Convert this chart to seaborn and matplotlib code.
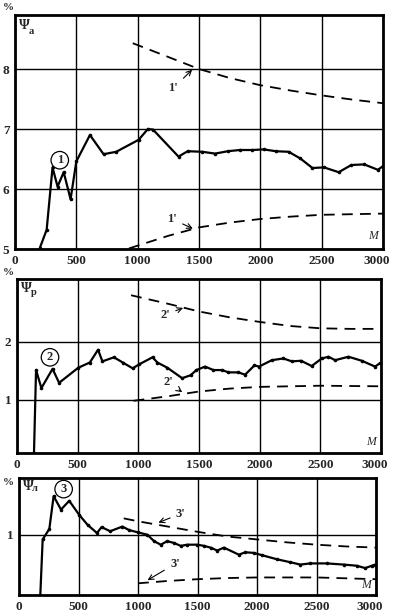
import numpy as np
import pandas as pd
import matplotlib
matplotlib.use("Agg")
import matplotlib.pyplot as plt
import matplotlib.transforms as mtransforms
import seaborn as sns

# ---- data ----
# panel 1 (Psi_a)
m1 = [203, 258, 306, 347, 397, 453, 500, 611, 722, 825, 1008, 1083, 1125, 1333, 1408,
      1528, 1631, 1736, 1833, 1936, 2028, 2125, 2231, 2325, 2425, 2519, 2639, 2742,
      2847, 2958, 3000]
psi1 = [5.02, 5.32, 6.36, 6.04, 6.28, 5.83, 6.46, 6.90, 6.58, 6.62, 6.82, 7.00, 6.99,
        6.54, 6.63, 6.62, 6.59, 6.63, 6.65, 6.65, 6.66, 6.63, 6.62, 6.51, 6.35, 6.36,
        6.28, 6.40, 6.41, 6.32, 6.38]
m1_up = [960, 1250, 1500, 1750, 2000, 2250, 2500, 2750, 3000]
psi1_up = [8.43, 8.20, 8.00, 7.85, 7.73, 7.64, 7.56, 7.49, 7.43]
m1_lo = [930, 1250, 1500, 1750, 2000, 2250, 2500, 2750, 3000]
psi1_lo = [5.01, 5.22, 5.36, 5.44, 5.50, 5.54, 5.57, 5.58, 5.59]

# panel 2 (Psi_p)
m2 = [140, 157, 201, 293, 347, 505, 600, 668, 704, 799, 872, 953, 1008, 1117, 1157,
      1239, 1361, 1430, 1479, 1550, 1619, 1692, 1742, 1825, 1880, 1957, 1995, 2100,
      2195, 2265, 2341, 2429, 2512, 2567, 2622, 2732, 2842, 2951, 2993]
psi2 = [0.08, 1.51, 1.20, 1.53, 1.29, 1.55, 1.64, 1.86, 1.66, 1.73, 1.64, 1.54, 1.61,
        1.73, 1.64, 1.55, 1.37, 1.42, 1.51, 1.57, 1.51, 1.51, 1.47, 1.47, 1.43, 1.59,
        1.57, 1.68, 1.71, 1.66, 1.67, 1.58, 1.71, 1.74, 1.68, 1.74, 1.67, 1.57, 1.63]
m2_up = [940, 1250, 1500, 1750, 2000, 2250, 2500, 2750, 3000]
psi2_up = [2.80, 2.65, 2.52, 2.42, 2.34, 2.27, 2.23, 2.22, 2.22]
m2_lo = [960, 1250, 1500, 1750, 2000, 2500, 3000]
psi2_lo = [0.98, 1.06, 1.14, 1.19, 1.22, 1.24, 1.23]

# panel 3 (Psi_l)
m3 = [179, 199, 255, 291, 353, 422, 506, 576, 655, 694, 766, 869, 925, 1001, 1079,
      1135, 1191, 1246, 1302, 1359, 1414, 1498, 1554, 1610, 1666, 1722, 1847, 1903,
      1973, 2043, 2169, 2281, 2364, 2448, 2588, 2728, 2839, 2909, 2965, 2993]
psi3 = [-0.03, 0.92, 1.10, 1.66, 1.43, 1.58, 1.34, 1.17, 1.03, 1.13, 1.06, 1.14, 1.08,
        1.04, 1.00, 0.89, 0.83, 0.89, 0.86, 0.81, 0.83, 0.83, 0.81, 0.78, 0.73, 0.78,
        0.66, 0.70, 0.69, 0.65, 0.58, 0.53, 0.49, 0.51, 0.51, 0.49, 0.47, 0.43, 0.47,
        0.49]
m3_up = [880, 1000, 1250, 1500, 1750, 2000, 2250, 2500, 2750, 3000]
psi3_up = [1.28, 1.23, 1.14, 1.05, 0.97, 0.92, 0.87, 0.83, 0.80, 0.78]
m3_lo = [1000, 1250, 1500, 1750, 2000, 2500, 3000]
psi3_lo = [0.17, 0.21, 0.24, 0.26, 0.27, 0.27, 0.24]

x_ticks = [0, 500, 1000, 1500, 2000, 2500, 3000]

sns.set_style("white")
plt.rcParams['font.family'] = ['Liberation Serif', 'DejaVu Serif']
plt.rcParams['font.weight'] = 'bold'

fig = plt.figure(figsize=(3.93, 6.12), dpi=100)
W, H = 393, 612


def make_ax(left, right, top, bottom):
    return fig.add_axes([left / W, (H - bottom) / H, (right - left) / W, (bottom - top) / H])


ax1 = make_ax(15, 383, 15, 249)
ax2 = make_ax(17, 381, 279, 453)
ax3 = make_ax(19, 376, 478, 595)

panels = [
    (ax1, m1, psi1, m1_up, psi1_up, m1_lo, psi1_lo, (5.0, 8.9), [5, 6, 7, 8], 'a', '1'),
    (ax2, m2, psi2, m2_up, psi2_up, m2_lo, psi2_lo, (0.08, 3.08), [1, 2], 'р', '2'),
    (ax3, m3, psi3, m3_up, psi3_up, m3_lo, psi3_lo, (-0.03, 1.97), [1], 'л', '3'),
]

for ax, mx, my, ux, uy, lx, ly, ylim, yt, sub, num in panels:
    sns.lineplot(x=mx, y=my, ax=ax, color='black', linewidth=1.6, marker='o',
                 markersize=2.6, markeredgewidth=0, zorder=3)
    sns.lineplot(x=ux, y=uy, ax=ax, color='black', linewidth=1.3, linestyle=(0, (6, 4)), zorder=3)
    sns.lineplot(x=lx, y=ly, ax=ax, color='black', linewidth=1.3, linestyle=(0, (6, 4)), zorder=3)
    ax.set_xlim(0, 3000)
    ax.set_ylim(*ylim)
    ax.set_xticks(x_ticks)
    ax.set_yticks(yt)
    ax.set_xticklabels([str(t) for t in x_ticks], fontsize=9.5, fontweight='bold')
    ax.set_yticklabels([str(t) for t in yt], fontsize=9.5, fontweight='bold')
    ax.tick_params(length=0, pad=4)
    # pull the last x label in a bit so it stays on the canvas
    last = ax.get_xticklabels()[-1]
    last.set_transform(last.get_transform() +
                       mtransforms.ScaledTranslation(-6 / 100, 0, fig.dpi_scale_trans))
    ax.grid(True, color='black', linewidth=1.0)
    ax.set_axisbelow(True)
    for s in ax.spines.values():
        s.set_linewidth(2)
        s.set_color('black')
    ax.set_xlabel('')
    ax.set_ylabel('')
    ax.text(0.01, 0.985, 'Ψ', transform=ax.transAxes, fontsize=10, va='top', ha='left')
    ax.text(0.037, 0.95, sub, transform=ax.transAxes, fontsize=7.5, va='top', ha='left')
    ax.text(0.985, 0.03, 'M', transform=ax.transAxes, fontsize=8.5, style='italic',
            fontweight='normal', va='bottom', ha='right')

# "%" marks
fig.text(3 / W, 1 - 3 / H, '%', fontsize=8, va='top', ha='left')
fig.text(3 / W, 1 - 268 / H, '%', fontsize=8, va='top', ha='left')
fig.text(3 / W, 1 - 478 / H, '%', fontsize=8, va='top', ha='left')

# circled curve numbers
circ = dict(boxstyle='circle,pad=0.22', fc='white', ec='black', lw=0.9)
ax1.text(365, 6.48, '1', fontsize=9, ha='center', va='center', bbox=circ, zorder=4)
ax2.text(272, 1.73, '2', fontsize=9, ha='center', va='center', bbox=circ, zorder=4)
ax3.text(375, 1.78, '3', fontsize=9, ha='center', va='center', bbox=circ, zorder=4)

# primed labels with arrows
arr = dict(arrowstyle='->', color='black', lw=0.8)
ax1.annotate("1'", xy=(1460, 8.02), xytext=(1290, 7.68), fontsize=9, ha='center',
             va='center', arrowprops=arr)
ax1.annotate("1'", xy=(1470, 5.32), xytext=(1280, 5.5), fontsize=9, ha='center',
             va='center', arrowprops=arr)
ax2.annotate("2'", xy=(1390, 2.6), xytext=(1220, 2.46), fontsize=9, ha='center',
             va='center', arrowprops=arr)
ax2.annotate("2'", xy=(1380, 1.1), xytext=(1250, 1.3), fontsize=9, ha='center',
             va='center', arrowprops=arr)
ax3.annotate("3'", xy=(1150, 1.19), xytext=(1360, 1.36), fontsize=9, ha='center',
             va='center', arrowprops=arr)
ax3.annotate("3'", xy=(1060, 0.2), xytext=(1310, 0.5), fontsize=9, ha='center',
             va='center', arrowprops=arr)

fig.savefig('out.png', dpi=100)
